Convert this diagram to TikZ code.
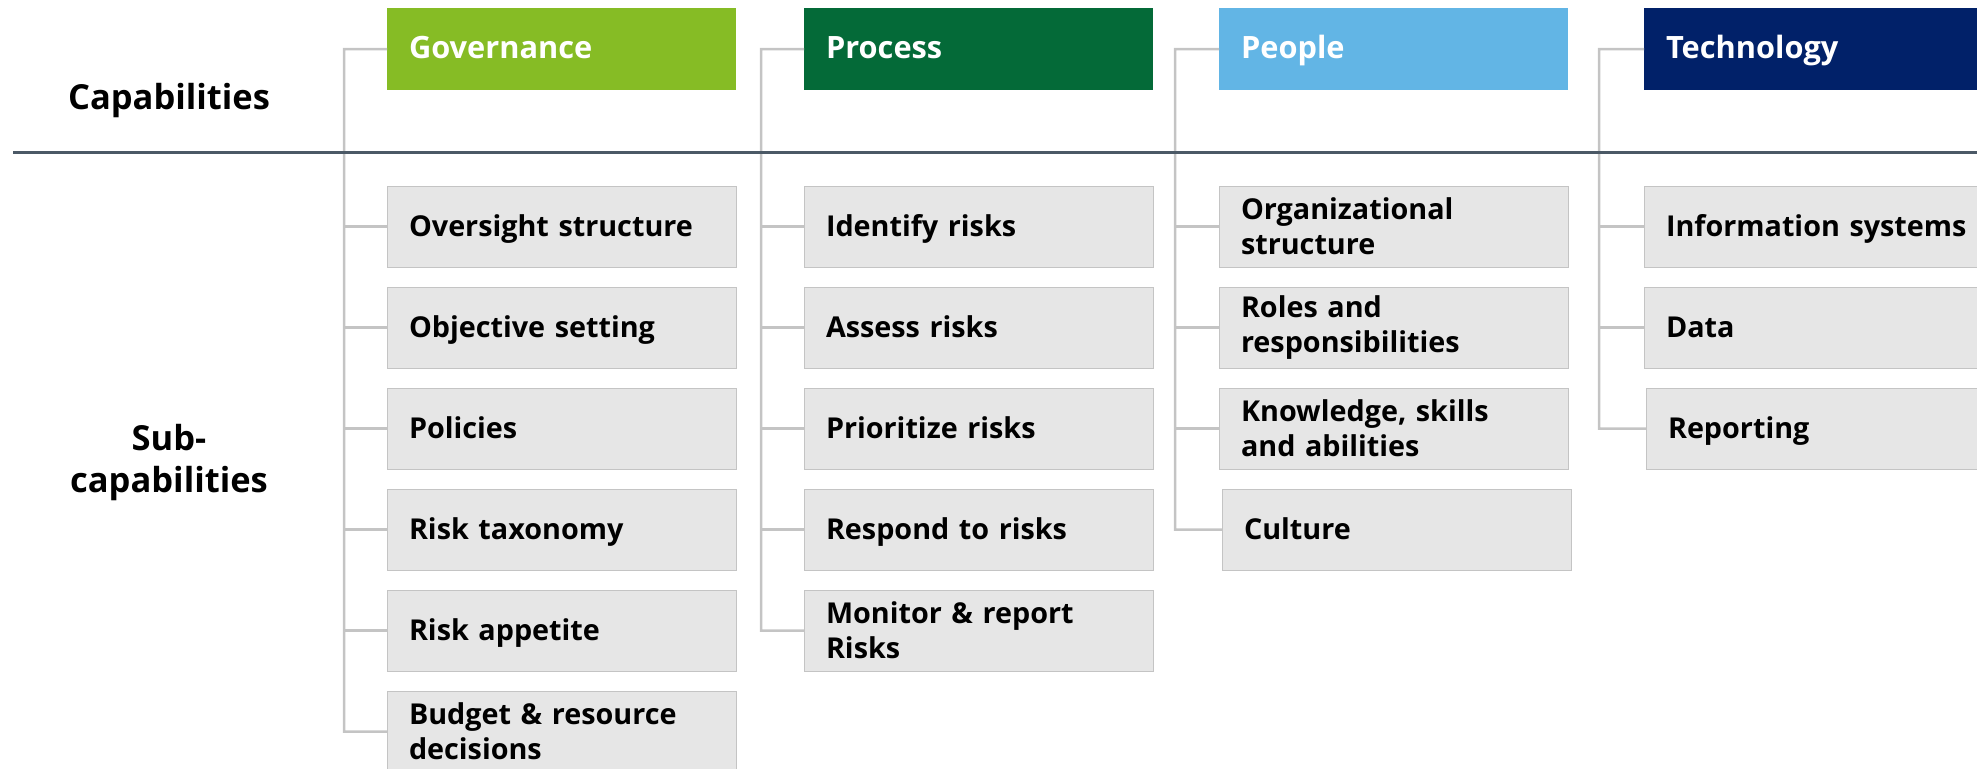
\documentclass[tikz,border=0pt]{standalone}
\usepackage{fontspec}
\setmainfont{Open Sans}
\usepackage{tikz}
\usetikzlibrary{positioning}

\definecolor{GovGreen}{HTML}{86BC25}
\definecolor{ProcGreen}{HTML}{046A38}
\definecolor{PeopleBlue}{HTML}{62B5E5}
\definecolor{TechBlue}{HTML}{012169}
\definecolor{SubGray}{HTML}{E6E6E6}
\definecolor{EdgeGray}{HTML}{C4C4C4}
\definecolor{RuleSlate}{HTML}{4B5966}

\begin{document}
\begin{tikzpicture}[x=0.4pt,y=-0.4pt,
    capbox/.style={anchor=north west,minimum width=139.6pt,minimum height=32.8pt,
      text width=122pt,inner xsep=8.8pt,inner ysep=0pt,outer sep=0pt,align=left,
      text height=0.76em,text depth=0pt,
      text=white,font=\fontsize{12.3}{15}\selectfont\bfseries},
    subbox/.style={anchor=north west,draw=EdgeGray,line width=0.4pt,fill=SubGray,
      minimum width=139.6pt,minimum height=32.4pt,text width=122pt,inner xsep=8.8pt,
      inner ysep=0pt,outer sep=0pt,align=left,font=\fontsize{11.5}{14}\selectfont\bfseries},
    oneline/.style={text height=0.76em,text depth=0pt},
    rowlabel/.style={align=center,font=\fontsize{13.8}{16.8}\selectfont\bfseries},
    branch/.style={draw=EdgeGray,line width=1pt},
    rulerline/.style={draw=RuleSlate,line width=1.2pt}]
  \useasboundingbox (0,0) rectangle (1977,768);
  \clip (0,0) rectangle (1977,768);

  % row titles
  \node[rowlabel] (caplbl) at (169,101) {Capabilities};
  \node[rowlabel] (sublbl) at (169,463) {Sub-\\capabilities};

  % capabilities
  \node[capbox,fill=GovGreen]   (gov)  at (387,8)  {Governance};
  \node[capbox,fill=ProcGreen]  (proc) at (804,8)  {Process};
  \node[capbox,fill=PeopleBlue] (ppl)  at (1219,8) {People};
  \node[capbox,fill=TechBlue]   (tech) at (1644,8) {Technology};

  % governance
  \node[subbox,oneline] (gov1) at (387,186) {Oversight structure};
  \node[subbox,oneline] (gov2) at (387,287) {Objective setting};
  \node[subbox,oneline] (gov3) at (387,388) {Policies};
  \node[subbox,oneline] (gov4) at (387,489) {Risk taxonomy};
  \node[subbox,oneline] (gov5) at (387,590) {Risk appetite};
  \node[subbox] (gov6) at (387,691) {Budget \& resource\\decisions};

  % process
  \node[subbox,oneline] (proc1) at (804,186) {Identify risks};
  \node[subbox,oneline] (proc2) at (804,287) {Assess\ risks};
  \node[subbox,oneline] (proc3) at (804,388) {Prioritize risks};
  \node[subbox,oneline] (proc4) at (804,489) {Respond to risks};
  \node[subbox] (proc5) at (804,590) {Monitor \& report\\Risks};

  % people
  \node[subbox] (ppl1) at (1219,186) {Organizational\\structure};
  \node[subbox] (ppl2) at (1219,287) {Roles and\\responsibilities};
  \node[subbox] (ppl3) at (1219,388) {Knowledge, skills\\and abilities};
  \node[subbox,oneline] (ppl4) at (1222,489) {Culture};

  % technology
  \node[subbox,oneline] (tech1) at (1644,186) {Information systems};
  \node[subbox,oneline] (tech2) at (1644,287) {Data};
  \node[subbox,oneline] (tech3) at (1646,388) {Reporting};

  % brackets
  \coordinate (govbar)  at (344,49);
  \coordinate (procbar) at (761,49);
  \coordinate (pplbar)  at (1175,49);
  \coordinate (techbar) at (1599,49);
  \draw[branch] (gov.west) -- (govbar) |- (gov6.west);
  \foreach \k in {1,...,5} \draw[branch] (gov\k.west) -- (govbar |- gov\k.west);
  \draw[branch] (proc.west) -- (procbar) |- (proc5.west);
  \foreach \k in {1,...,4} \draw[branch] (proc\k.west) -- (procbar |- proc\k.west);
  \draw[branch] (ppl.west) -- (pplbar) |- (ppl4.west);
  \foreach \k in {1,...,3} \draw[branch] (ppl\k.west) -- (pplbar |- ppl\k.west);
  \draw[branch] (tech.west) -- (techbar) |- (tech3.west);
  \foreach \k in {1,2} \draw[branch] (tech\k.west) -- (techbar |- tech\k.west);

  % divider
  \coordinate (ruleL) at (13,152);
  \coordinate (ruleR) at (1977,152);
  \draw[rulerline] (ruleL) -- (ruleR);
\end{tikzpicture}
\end{document}
